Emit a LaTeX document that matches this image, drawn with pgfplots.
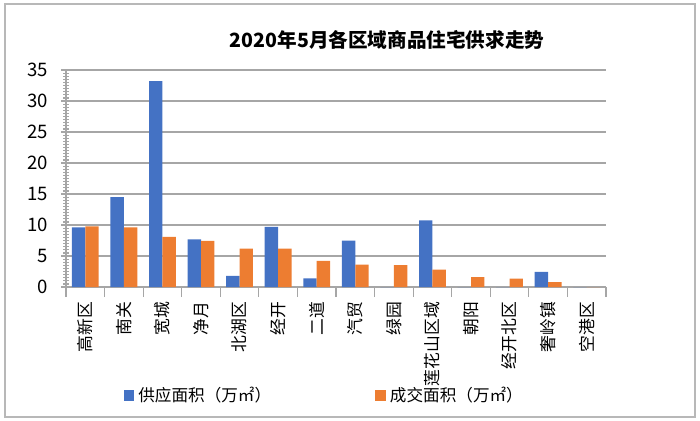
\documentclass[border=0pt]{standalone}
\usepackage{pgfplots}
\pgfplotsset{compat=1.18}
\usepackage{fontspec}
\setmainfont{Noto Sans CJK SC}
\definecolor{cblue}{HTML}{4472C4}
\definecolor{corange}{HTML}{ED7D31}
\definecolor{gridc}{HTML}{A6A6A6}
\begin{document}
\begin{tikzpicture}[x=1pt,y=1pt]
\path[use as bounding box] (0,0) rectangle (350,210);
\draw[gridc!80, line width=0.8pt] (2.5,1.5) rectangle (347.5,208);
\node[font=\bfseries\fontsize{9.8}{11}\selectfont] at (193.5,190) {2020年5月各区域商品住宅供求走势};
\begin{axis}[
  at={(33pt,66.5pt)}, anchor=south west,
  width=270pt, height=108.5pt, scale only axis,
  ybar=0pt, bar width=6.7pt,
  xmin=-0.5, xmax=13.5, ymin=0, ymax=35,
  ytick={0,5,...,35}, minor y tick num=9,
  /pgf/number format/assume math mode=true,
  yticklabel style={font=\fontsize{9.3}{10}\selectfont, xshift=-3pt},
  y tick style={gridc, line width=0.6pt},
  ytick align=center,
  major tick length=5pt, minor tick length=3pt,
  xtick={-0.5,0.5,...,13.5}, xticklabels={},
  xtick align=outside,
  x tick style={gridc, line width=0.6pt},
  extra x ticks={0,1,...,13},
  extra x tick labels={高新区,南关,宽城,净月,北湖区,经开,二道,汽贸,绿园,莲花山区域,朝阳,经开北区,奢岭镇,空港区},
  extra x tick style={major tick length=0pt, grid=none,
    tick label style={rotate=90, anchor=east, font=\fontsize{8.4}{9}\selectfont, xshift=-4pt}},
  ymajorgrids=true,
  grid style={gridc, line width=0.7pt},
  axis x line*=bottom, axis y line*=left,
  axis line style={gridc, line width=0.7pt, -},
  legend columns=2,
  legend style={at={(rel axis cs:0.48,-0.5)}, anchor=center, draw=none, fill=none,
    font=\fontsize{8.3}{9}\selectfont,
    /tikz/every even column/.append style={column sep=50pt}},
  legend image code/.code={\fill[#1] (0pt,-2.7pt) rectangle (5.4pt,2.7pt);},
]
\addplot[fill=cblue, draw=none] coordinates {
(0,9.6) (1,14.5) (2,33.2) (3,7.7) (4,1.8) (5,9.7) (6,1.4) (7,7.5) (8,0) (9,10.75) (10,0) (11,0) (12,2.45) (13,0)};
\addplot[fill=corange, draw=none] coordinates {
(0,9.8) (1,9.6) (2,8.1) (3,7.45) (4,6.2) (5,6.2) (6,4.2) (7,3.6) (8,3.55) (9,2.8) (10,1.6) (11,1.35) (12,0.8) (13,0)};
\legend{供应面积（万㎡）,成交面积（万㎡）}
\end{axis}
\end{tikzpicture}
\end{document}
